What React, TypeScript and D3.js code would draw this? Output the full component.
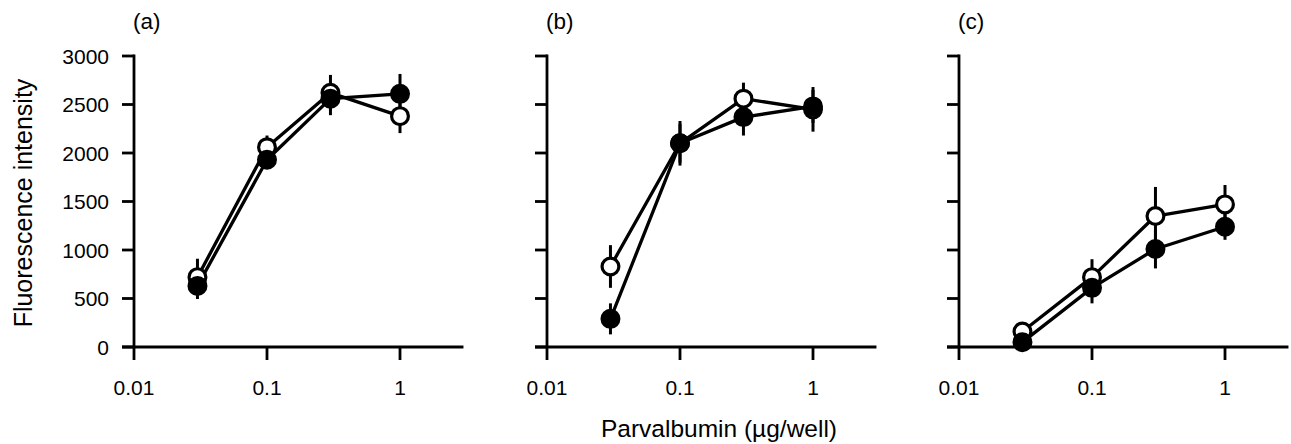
import React from "react";
import * as d3 from "d3";

const doses = [0.03, 0.1, 0.3, 1];
const xTicks = [0.01, 0.1, 1];
const xTickLabels = ["0.01", "0.1", "1"];
const yTicks = [0, 500, 1000, 1500, 2000, 2500, 3000];
const panelLabels = ["(a)", "(b)", "(c)"];

const aOpen = [720, 2060, 2620, 2380];
const aOpenErr = [190, 120, 185, 175];
const aFilled = [630, 1930, 2560, 2610];
const aFilledErr = [135, 90, 170, 205];

const bOpen = [830, 2100, 2560, 2450];
const bOpenErr = [220, 230, 165, 230];
const bFilled = [290, 2100, 2370, 2480];
const bFilledErr = [160, 200, 190, 170];

const cOpen = [160, 720, 1350, 1470];
const cOpenErr = [50, 185, 300, 200];
const cFilled = [50, 610, 1010, 1240];
const cFilledErr = [30, 160, 200, 135];

const panels = [
  { label: panelLabels[0], open: aOpen, openErr: aOpenErr, filled: aFilled, filledErr: aFilledErr },
  { label: panelLabels[1], open: bOpen, openErr: bOpenErr, filled: bFilled, filledErr: bFilledErr },
  { label: panelLabels[2], open: cOpen, openErr: cOpenErr, filled: cFilled, filledErr: cFilledErr },
];

const W = 1291;
const H = 444;
const panelX0 = [134, 547, 959];
const decade = 133;
const font = "'Liberation Sans', Arial, Helvetica, sans-serif";

const y = d3.scaleLinear().domain([0, 3000]).range([347, 56]);

function Panel({ p, x0, showYLabels }: any) {
  const x = d3
    .scaleLog()
    .domain([0.01, 3])
    .range([x0, x0 + decade * Math.log10(300)]);
  const line = d3
    .line<number>()
    .x((_, i) => x(doses[i]))
    .y((d) => y(d));
  const sw = 3.3;
  const series = [
    { vals: p.open, err: p.openErr, fill: "#fff" },
    { vals: p.filled, err: p.filledErr, fill: "#000" },
  ];
  return (
    <g>
      <line x1={x0} x2={x0} y1={y(3000) - 1.5} y2={y(0)} stroke="#000" strokeWidth={2.8} />
      <line x1={x0 - 12} x2={x.range()[1]} y1={y(0)} y2={y(0)} stroke="#000" strokeWidth={2.8} />
      {yTicks.map((t) => (
        <g key={t}>
          <line x1={x0 - 12} x2={x0} y1={y(t)} y2={y(t)} stroke="#000" strokeWidth={2.8} />
          {showYLabels && (
            <text x={x0 - 25} y={y(t)} dy="0.36em" textAnchor="end" fontSize={21} fontFamily={font}>
              {t}
            </text>
          )}
        </g>
      ))}
      {xTicks.map((t, i) => (
        <g key={t}>
          <line x1={x(t)} x2={x(t)} y1={y(0)} y2={y(0) + 13} stroke="#000" strokeWidth={2.8} />
          <text x={x(t)} y={395} textAnchor="middle" fontSize={21} fontFamily={font}>
            {xTickLabels[i]}
          </text>
        </g>
      ))}
      <text x={x0 - 1} y={29} fontSize={22.5} fontFamily={font}>
        {p.label}
      </text>
      {series.map((s, k) => (
        <path key={"l" + k} d={line(s.vals) || ""} fill="none" stroke="#000" strokeWidth={sw} strokeLinejoin="round" />
      ))}
      {series.map((s, k) =>
        s.vals.map((v: number, i: number) => (
          <line
            key={"e" + k + i}
            x1={x(doses[i])}
            x2={x(doses[i])}
            y1={y(v + s.err[i])}
            y2={y(v - s.err[i])}
            stroke="#000"
            strokeWidth={3}
          />
        ))
      )}
      {series.map((s, k) =>
        s.vals.map((v: number, i: number) => (
          <circle
            key={"m" + k + i}
            cx={x(doses[i])}
            cy={y(v)}
            r={8.4}
            fill={s.fill}
            stroke="#000"
            strokeWidth={3.2}
          />
        ))
      )}
    </g>
  );
}

export default function App() {
  return (
    <svg
      width={W}
      height={H}
      style={{ position: "absolute", left: 0, top: 0, background: "#fff" }}
    >
      <rect width={W} height={H} fill="#fff" />
      {panels.map((p, i) => (
        <Panel key={i} p={p} x0={panelX0[i]} showYLabels={i === 0} />
      ))}
      <text
        transform={`translate(31.5, 203) rotate(-90)`}
        textAnchor="middle"
        fontSize={25}
        fontFamily={font}
      >
        Fluorescence intensity
      </text>
      <text x={719} y={437} textAnchor="middle" fontSize={24.5} fontFamily={font}>
        Parvalbumin (µg/well)
      </text>
    </svg>
  );
}
